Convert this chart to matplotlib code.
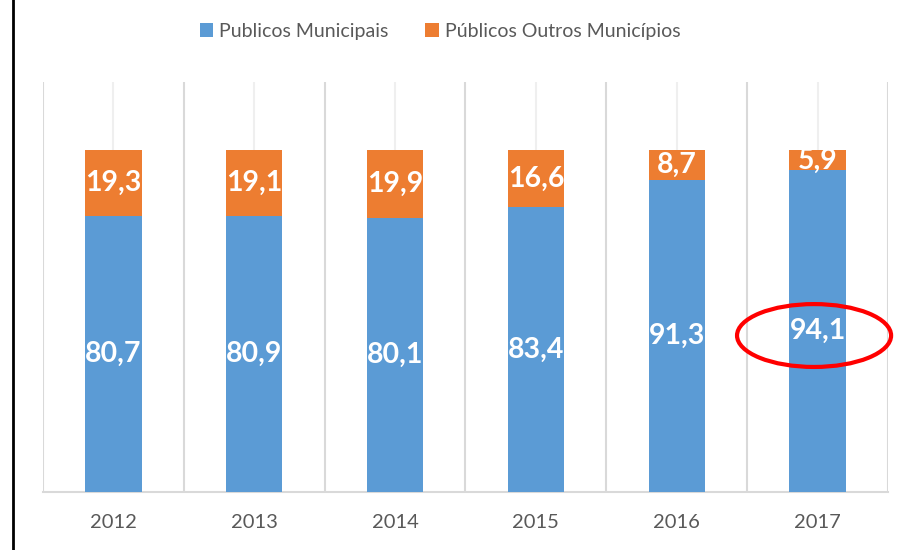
import matplotlib.pyplot as plt
from matplotlib.patches import Ellipse
from matplotlib.lines import Line2D

plt.rcParams['font.family'] = ['Lato', 'DejaVu Sans']

# data
years = ["2012", "2013", "2014", "2015", "2016", "2017"]
municipais = [80.7, 80.9, 80.1, 83.4, 91.3, 94.1]
outros = [19.3, 19.1, 19.9, 16.6, 8.7, 5.9]
fmt = lambda v: ("%.1f" % v).replace(".", ",")

fig = plt.figure(figsize=(9.02, 5.5), dpi=100)
ax = fig.add_axes([43/902, 58/550, 845/902, 410/550])

x = list(range(len(years)))
b1 = ax.bar(x, municipais, width=0.40, color="#5B9BD5", label="Publicos Municipais", zorder=3)
b2 = ax.bar(x, outros, width=0.40, bottom=municipais, color="#ED7D31",
            label="Públicos Outros Municípios", zorder=3)

# value labels inside segments
for i in x:
    ax.text(i, municipais[i] / 2, fmt(municipais[i]), ha="center", va="center",
            color="white", fontsize=20.5, fontweight="bold", zorder=5)
    ax.text(i, municipais[i] + outros[i] / 2, fmt(outros[i]), ha="center", va="center",
            color="white", fontsize=20.5, fontweight="bold", zorder=5)

ax.set_xlim(-0.5, len(years) - 0.5)
ax.set_ylim(0, 120)
ax.set_yticks([])
ax.set_xticks(x)
ax.set_xticklabels(years, fontsize=14.5, color="#595959")
ax.tick_params(axis="x", length=0, pad=16)

# vertical gridlines: category boundaries and centers
for xb in [i - 0.5 for i in range(len(years) + 1)]:
    ax.axvline(xb, color="#d9d9d9", lw=1.5, zorder=1)
for xc in x:
    ax.axvline(xc, color="#efefef", lw=1.5, zorder=1)

for s in ["top", "right", "left"]:
    ax.spines[s].set_visible(False)
ax.spines["bottom"].set_color("#d9d9d9")
ax.spines["bottom"].set_linewidth(1.5)

# red highlight around 2017 value
ax.add_patch(Ellipse((4.975, 45.8), 1.094, 18.4, fill=False, edgecolor="#FF0000",
                     lw=3, zorder=6, clip_on=False))

fig.legend(handles=[b1, b2], loc="center", bbox_to_anchor=(440/902, 1 - 31/550),
           ncol=2, frameon=False, fontsize=14, handlelength=0.7, handleheight=0.7,
           handletextpad=0.3, columnspacing=1.9, labelcolor="#595959")

# black border line on the left
fig.add_artist(Line2D([13/902, 13/902], [0, 1], color="black", lw=2,
                      transform=fig.transFigure))

fig.savefig("out.png", dpi=100)
